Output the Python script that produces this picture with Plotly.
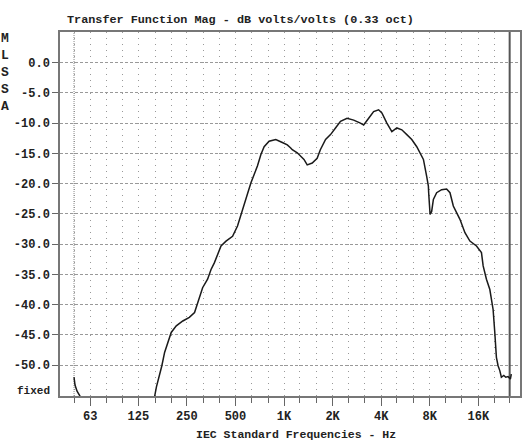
import plotly.graph_objects as go

# ---- data ----
tail_freq = [50, 50.7, 52.2, 54.4, 56]
tail_db = [-52.0, -53.3, -54.3, -55.1, -56.5]

freq = [156, 158, 162, 168, 175, 182, 191, 200, 215, 236, 259, 279, 292, 313, 336, 353, 370, 388,
        407, 437, 480, 515, 553, 594, 623, 653, 684, 719, 753, 808, 889, 976, 1048, 1100, 1125,
        1208, 1329, 1392, 1495, 1604, 1679, 1809, 1941, 2084, 2238, 2457, 2702, 2973, 3115, 3345,
        3590, 3855, 4039, 4337, 4656, 5000, 5367, 5764, 6186, 6643, 7305, 7653, 7841, 7873, 7922,
        8033, 8218, 8420, 8823, 9470, 10170, 10670, 11190, 11720, 12300, 13210, 14180, 15570,
        16720, 17130, 17950, 18840, 19270, 19740, 20220, 20390, 20690, 21190, 21720, 22210,
        22990, 23650, 24440, 25250, 25600]
mag_db = [-56.5, -55.1, -53.6, -52.0, -50.1, -47.9, -46.0, -44.6, -43.5, -42.7, -42.1, -41.3, -39.7,
          -37.2, -35.8, -34.2, -33.1, -31.7, -30.3, -29.5, -28.7, -27.0, -24.3, -21.5, -19.9, -18.5,
          -17.1, -15.2, -13.9, -13.0, -12.7, -13.2, -13.6, -14.1, -14.4, -14.9, -16.0, -16.9, -16.6,
          -15.8, -14.4, -12.7, -11.9, -10.8, -9.7, -9.2, -9.5, -10.0, -10.3, -9.2, -8.1, -7.8, -8.3,
          -10.0, -11.4, -10.8, -11.1, -11.9, -12.7, -13.9, -16.0, -18.8, -20.4, -21.5, -22.6, -25.1,
          -24.6, -22.6, -21.5, -21.0, -20.9, -21.5, -23.7, -24.8, -25.9, -28.1, -29.5, -30.3, -31.4,
          -33.6, -35.8, -37.5, -39.1, -40.8, -44.6, -47.1, -48.7, -50.1, -50.9, -52.0, -51.7, -52.0,
          -51.9, -52.3, -51.5]

major_freqs = [63, 125, 250, 500, 1000, 2000, 4000, 8000, 16000]
major_labels = ["63", "125", "250", "500", "1K", "2K", "4K", "8K", "16K"]
third_oct = [50, 63, 80, 100, 125, 160, 200, 250, 315, 400, 500, 630, 800, 1000, 1250, 1600,
             2000, 2500, 3150, 4000, 5000, 6300, 8000, 10000, 12500, 16000, 20000, 25000]
y_ticks = [0, -5, -10, -15, -20, -25, -30, -35, -40, -45, -50]
y_labels = ["0.0", "-5.0", "-10.0", "-15.0", "-20.0", "-25.0", "-30.0", "-35.0", "-40.0",
            "-45.0", "-50.0"]
start_freq = 50
stop_freq = 25000
y_min, y_max = -55.1, 5.06

FONT = "Liberation Mono"

fig = go.Figure()
# analysis range markers
fig.add_trace(go.Scatter(x=[start_freq, start_freq], y=[y_min, y_max], mode="lines",
                         line=dict(color="#888", width=1, dash="1px,1px"), hoverinfo="skip"))
fig.add_trace(go.Scatter(x=[stop_freq, stop_freq], y=[y_min, y_max], mode="lines",
                         line=dict(color="#555", width=2), hoverinfo="skip"))
# response curve
fig.add_trace(go.Scatter(x=tail_freq + [None] + freq, y=tail_db + [None] + mag_db, mode="lines",
                         line=dict(color="#1a1a1a", width=1.5), connectgaps=False))

fig.update_layout(
    width=530, height=444,
    margin=dict(l=60, r=8, t=32, b=48),
    paper_bgcolor="white", plot_bgcolor="white",
    showlegend=False,
    font=dict(family=FONT, size=12, color="#222", weight="bold"),
    xaxis=dict(
        type="log", range=[1.612, 4.462],
        tickvals=major_freqs, ticktext=major_labels,
        ticks="outside", ticklen=8, tickcolor="#666", tickwidth=1,
        showgrid=True, gridcolor="#999", gridwidth=1, griddash="1px,5.05px",
        showline=True, linecolor="#777", linewidth=1.5, mirror=True, zeroline=False,
        tickfont=dict(family=FONT, size=12, color="#222", weight="bold"),
        minor=dict(tickvals=third_oct, ticks="outside", ticklen=5, tickcolor="#666",
                   showgrid=True, gridcolor="#999", gridwidth=1, griddash="1px,5.05px"),
    ),
    yaxis=dict(
        range=[y_min, y_max],
        tickvals=y_ticks, ticktext=y_labels,
        ticks="outside", ticklen=6, tickcolor="#666",
        showgrid=True, gridcolor="#999", gridwidth=1, griddash="3px,2px",
        showline=True, linecolor="#777", linewidth=1.5, mirror=True, zeroline=False,
        tickfont=dict(family=FONT, size=12, color="#222", weight="bold"),
    ),
    annotations=[
        dict(text="Transfer Function Mag - dB volts/volts (0.33 oct)", xref="paper", yref="paper",
             x=0.0108, y=1.032, xanchor="left", yanchor="middle", showarrow=False,
             font=dict(family=FONT, size=11.8, color="#222", weight="bold")),
        dict(text="IEC Standard Frequencies - Hz", xref="paper", yref="paper",
             x=0.513, y=-0.107, xanchor="center", yanchor="middle", showarrow=False,
             font=dict(family=FONT, size=11.5, color="#222", weight="bold")),
        dict(text="fixed", xref="paper", yref="y", x=-0.0173, y=-54.3, xanchor="right",
             yanchor="middle", showarrow=False,
             font=dict(family=FONT, size=11, color="#222", weight="bold")),
        dict(text="M<br>L<br>S<br>S<br>A", xref="paper", yref="paper", x=-0.119, y=0.89,
             xanchor="center", yanchor="middle", showarrow=False,
             font=dict(family=FONT, size=13, color="#222", weight="bold")),
    ],
)

fig.write_html("out.html", config={"displayModeBar": False},
               post_script="document.body.style.margin='0';")
